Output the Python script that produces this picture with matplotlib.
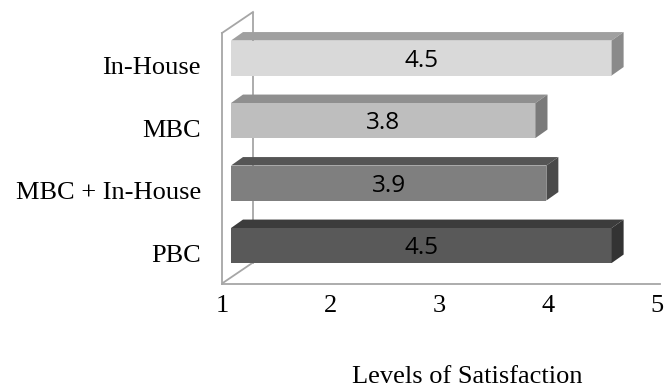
import matplotlib
matplotlib.use("Agg")
import matplotlib.pyplot as plt
from matplotlib.patches import Polygon
from matplotlib.transforms import ScaledTranslation

# Satisfaction scores per procurement approach (bottom to top)
categories = ["PBC", "MBC + In-House", "MBC", "In-House"]
scores = [4.5, 3.9, 3.8, 4.5]
value_labels = ["4.5", "3.9", "3.8", "4.5"]
x_ticks = [1, 2, 3, 4, 5]
x_title = "Levels of Satisfaction"

# face colours for each bar: front, top, side
front_colors = ["#595959", "#7f7f7f", "#bebebe", "#d9d9d9"]
top_colors = ["#3c3c3c", "#555555", "#8f8f8f", "#a0a0a0"]
side_colors = ["#333333", "#4a4a4a", "#7a7a7a", "#8a8a8a"]

W, H = 665, 390
fig = plt.figure(figsize=(W / 100, H / 100), dpi=100)

# axes placed in pixel terms: value 1 at x=222, value 5 at x=657
left_px, right_px = 222, 657
floor_px, top_px = 283.5, 12
ax = fig.add_axes([left_px / W, (H - floor_px) / H,
                   (right_px - left_px) / W, (floor_px - top_px) / H])

y_lo, y_hi = -0.608, 3.736
ax.set_xlim(1, 5)
ax.set_ylim(y_lo, y_hi)
ax.axis("off")

wall_color = "#a6a6a6"
wall_dx, wall_dy = 0.285, 0.336      # depth of the side wall
bar_dx, bar_dy = 0.110, 0.135        # depth of each bar
bar_shift = 0.083                    # bars sit slightly inside the wall
bar_h = 0.56

lw = 1.3
# back edges of the side wall
ax.plot([1 + wall_dx, 1 + wall_dx], [y_lo + wall_dy, y_hi], color=wall_color, lw=lw, zorder=1)
ax.plot([1, 1 + wall_dx], [y_lo, y_lo + wall_dy], color=wall_color, lw=lw, zorder=1)
# front edges
ax.plot([1, 1], [y_lo, y_hi - wall_dy], color=wall_color, lw=lw, zorder=5, clip_on=False)
ax.plot([1, 1 + wall_dx], [y_hi - wall_dy, y_hi], color=wall_color, lw=lw, zorder=5, clip_on=False)
ax.plot([1, 5.03], [y_lo, y_lo], color=wall_color, lw=lw, zorder=5, clip_on=False)

label_shift = ax.transData + ScaledTranslation(-21 / 100, 0, fig.dpi_scale_trans)
tick_shift = ax.transData + ScaledTranslation(0, -22.5 / 100, fig.dpi_scale_trans)

for i, (v, lab) in enumerate(zip(scores, value_labels)):
    x0 = 1 + bar_shift
    x1 = x0 + (v - 1)
    lo, hi = i - bar_h / 2, i + bar_h / 2
    front = Polygon([(x0, lo), (x1, lo), (x1, hi), (x0, hi)], closed=True,
                    facecolor=front_colors[i], edgecolor="none", zorder=3)
    top = Polygon([(x0, hi), (x1, hi), (x1 + bar_dx, hi + bar_dy), (x0 + bar_dx, hi + bar_dy)],
                  closed=True, facecolor=top_colors[i], edgecolor="none", zorder=3)
    side = Polygon([(x1, lo), (x1 + bar_dx, lo + bar_dy), (x1 + bar_dx, hi + bar_dy), (x1, hi)],
                   closed=True, facecolor=side_colors[i], edgecolor="none", zorder=3)
    for p in (front, top, side):
        ax.add_patch(p)
    ax.text((x0 + x1) / 2, i - 0.04, lab, ha="center", va="center", fontsize=17.5,
            family="Open Sans", color="#000000", zorder=4)
    ax.text(1, i - 0.16, categories[i], ha="right", va="center", fontsize=19,
            family="Liberation Serif", color="#000000", transform=label_shift)

for t in x_ticks:
    ax.text(t, y_lo, str(t), ha="center", va="center", fontsize=19,
            family="Liberation Serif", color="#000000", transform=tick_shift)

fig.text(467 / W, 1 - 377 / H, x_title, ha="center", va="center", fontsize=19,
         family="Liberation Serif", color="#000000")

fig.savefig("out.png", dpi=100, facecolor="white")
